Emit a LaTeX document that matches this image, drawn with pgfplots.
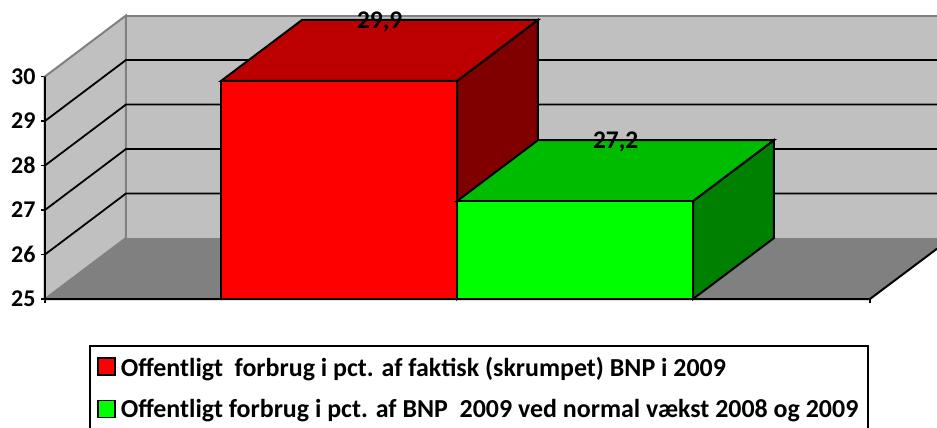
\documentclass[border=0pt]{standalone}
\usepackage{fontspec}
\setmainfont{Carlito}
\usepackage{pgfplots}
\pgfplotsset{compat=1.18}

\definecolor{wall}{HTML}{C0C0C0}
\definecolor{floorc}{HTML}{808080}
\definecolor{redtop}{HTML}{BC0000}
\definecolor{redside}{HTML}{800000}
\definecolor{greentop}{HTML}{00BC00}
\definecolor{greenside}{HTML}{008000}

\begin{document}
\begin{tikzpicture}
\begin{axis}[
    scale only axis,
    width=892pt, height=284.8pt,
    xmin=-0.746, xmax=3.034,
    ymin=25, ymax=31.4,
    clip=false,
    axis line style={draw=none},
    tick pos=left, tick align=outside,
    major tick length=4pt,
    tick style={black, line width=1.8pt},
    xtick={-0.746,2.75}, xticklabels={},
    ytick={25,26,27,28,29,30},
    yticklabel style={font=\fontsize{24}{26}\selectfont\bfseries, /pgf/number format/assume math mode=true, xshift=-2pt},
    legend style={at={(axis description cs:0.0493,-0.1615)}, anchor=north west,
        draw=black, line width=1.8pt, inner xsep=7.5pt, inner ysep=9pt, row sep=18pt,
        font=\fontsize{25.93}{28}\selectfont\bfseries},
    legend cell align=left,
    legend image code/.code={\draw[#1, line width=1.8pt] (0pt,-8pt) rectangle (17pt,9pt); \path[draw=none] (0pt,0pt) -- (20.5pt,0pt);},
]

% floor and walls
\addplot[forget plot, fill=wall, draw=none] coordinates {(-0.403,26.37) (3.034,26.37) (3.034,31.37) (-0.403,31.37)} -- cycle;
\addplot[forget plot, fill=wall, draw=floorc, line width=2pt] coordinates {(-0.746,25) (-0.403,26.37) (-0.403,31.37) (-0.746,30)} -- cycle;
\addplot[forget plot, fill=floorc, draw=none] coordinates {(-0.746,25) (2.75,25) (3.034,26.13) (3.034,26.37) (-0.403,26.37)} -- cycle;
\addplot[forget plot, floorc, line width=2pt] coordinates {(-0.403,31.37) (3.034,31.37)};

% gridlines
\addplot[forget plot, black, line width=1.8pt] coordinates {(-0.746,26) (-0.403,27.37) (3.034,27.37)};
\addplot[forget plot, black, line width=1.8pt] coordinates {(-0.746,27) (-0.403,28.37) (3.034,28.37)};
\addplot[forget plot, black, line width=1.8pt] coordinates {(-0.746,28) (-0.403,29.37) (3.034,29.37)};
\addplot[forget plot, black, line width=1.8pt] coordinates {(-0.746,29) (-0.403,30.37) (3.034,30.37)};

% red bar
\addplot[forget plot, fill=redside, draw=black, line width=2pt] coordinates {(1,25) (1.343,26.37) (1.343,31.27) (1,29.9)} -- cycle;
\addplot[forget plot, fill=redtop, draw=black, line width=2pt] coordinates {(0,29.9) (0.343,31.27) (1.343,31.27) (1,29.9)} -- cycle;
\addplot[fill=red, draw=black, line width=2pt] coordinates {(0,25) (1,25) (1,29.9) (0,29.9)} -- cycle;
\addlegendentry{Offentligt\ \ forbrug i pct. af faktisk (skrumpet) BNP i 2009}

% green bar
\addplot[forget plot, fill=greenside, draw=black, line width=2pt] coordinates {(2,25) (2.343,26.37) (2.343,28.57) (2,27.2)} -- cycle;
\addplot[forget plot, fill=greentop, draw=black, line width=2pt] coordinates {(1,27.2) (1.343,28.57) (2.343,28.57) (2,27.2)} -- cycle;
\addplot[fill=green, draw=black, line width=2pt] coordinates {(1,25) (2,25) (2,27.2) (1,27.2)} -- cycle;
\addlegendentry{Offentligt forbrug i pct. af BNP\ \ 2009 ved normal vækst 2008 og 2009}

% axis lines on top
\addplot[forget plot, black, line width=2pt] coordinates {(-0.746,30) (-0.746,25) (2.75,25) (3.034,26.13)};

% value labels
\node[font=\fontsize{25.4}{28}\selectfont\bfseries] at (axis cs:0.672,31.235) {29,9};
\node[font=\fontsize{25.4}{28}\selectfont\bfseries] at (axis cs:1.672,28.535) {27,2};
\end{axis}
\pgfresetboundingbox
\path (-45pt,-129pt) rectangle (892pt,299pt);
\end{tikzpicture}
\end{document}
